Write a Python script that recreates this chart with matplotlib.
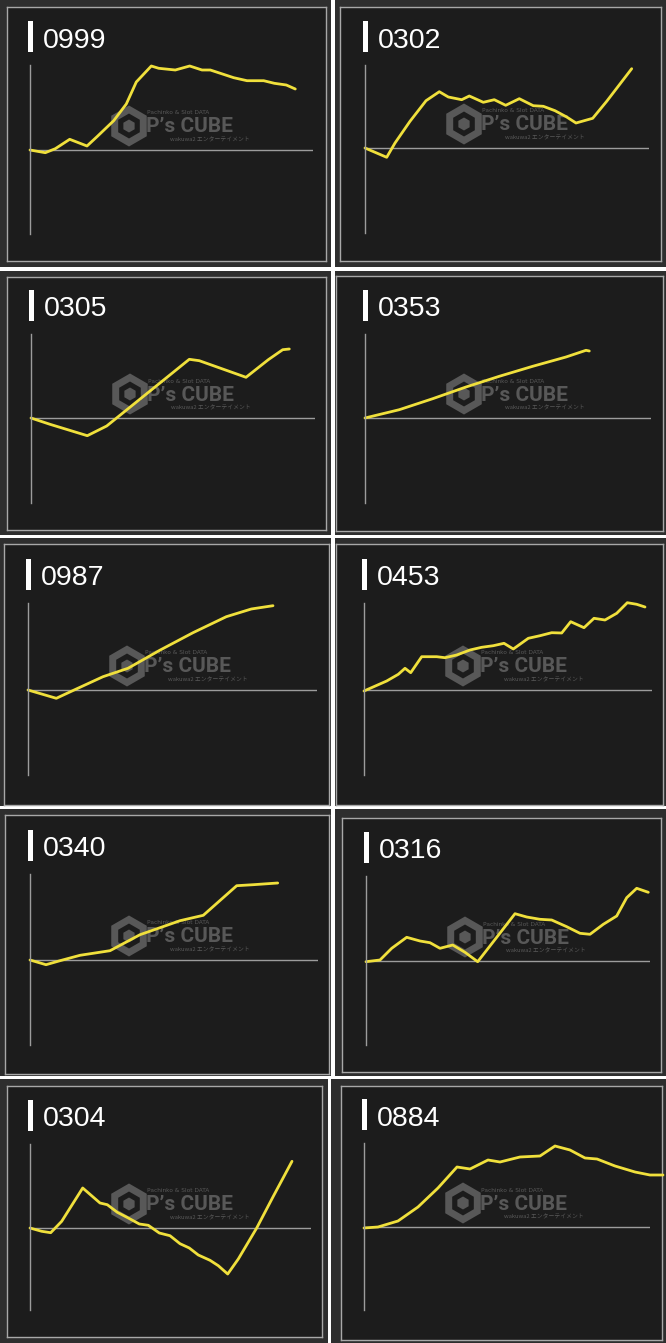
import matplotlib
matplotlib.use("Agg")
import matplotlib.pyplot as plt
from matplotlib.patches import Rectangle, RegularPolygon
from matplotlib.transforms import IdentityTransform

# ---------------- data (y in chart units, + is up) ----
ids = ["0999", "0302", "0305", "0353", "0987", "0453", "0340", "0316", "0304", "0884"]

x_0999 = [0, 15.3, 25.3, 39.7, 57, 67, 83.7, 96.3, 106.3, 121.3, 128.7, 145.3, 159.7, 172, 180.3, 203.7, 217, 233.7, 244.3, 256.3, 265.3]
y_0999 = [0, -2.7, 1.3, 10.7, 4, 13.3, 29.3, 46, 68, 84, 81.7, 80, 84, 80, 80, 72.3, 69.3, 69.3, 66.7, 65, 61]

x_0302 = [0, 21.7, 30, 45, 61, 74.3, 83.3, 96.7, 104.3, 118.3, 129.3, 140.7, 154.3, 168.3, 178.3, 190, 201.7, 211, 227.7, 241.7, 266.7]
y_0302 = [0, -9.3, 5, 26.7, 47.3, 56.3, 51, 48.3, 52, 45.7, 48.3, 42.7, 49.3, 42.3, 41.7, 37.3, 31, 25, 29.7, 46.7, 79.3]

x_0305 = [0, 19, 56.3, 75.7, 158.3, 168.3, 215, 237.3, 251.7, 258.3]
y_0305 = [0, -6.3, -17.7, -8, 58.7, 57.3, 40.7, 58.3, 68.3, 69]

x_0353 = [0, 34.3, 67.7, 101, 134.3, 167.7, 201, 221, 224.3]
y_0353 = [0, 8.3, 19.3, 31, 41.7, 51.7, 61, 67.7, 67]

x_0987 = [0, 28.3, 48.3, 75, 100, 131.7, 165, 198.3, 223.3, 245]
y_0987 = [0, -8.3, 1, 13.3, 21.7, 39.7, 57.3, 73.3, 81, 84.3]

x_0453 = [0, 22.7, 34.3, 41, 46.7, 57.7, 72.7, 81, 92.7, 106, 117.7, 129.3, 140, 149.3, 164.3, 176, 187.7, 197.7, 206.7, 220, 230, 241, 252.7, 263.3, 272.7, 281]
y_0453 = [-1, 9, 15.7, 21.7, 17.3, 33.3, 33.3, 32.3, 35, 40, 42.7, 44.3, 46.7, 41, 51.7, 54.3, 57.3, 57, 68.3, 62.3, 71.7, 70, 76.7, 87.3, 85.7, 83]

x_0340 = [0, 16, 30, 50, 80, 110, 150, 173.3, 206.7, 223.3, 247.7]
y_0340 = [0, -4.7, -0.7, 4.7, 9.3, 25.3, 39.3, 44.7, 74.3, 75.3, 77]

x_0316 = [0, 14, 25.7, 40.7, 54, 64, 74, 86.7, 99, 111.7, 127.3, 149, 160.7, 174, 185.7, 200.7, 214, 224, 237.3, 250.7, 260.7, 270.7, 282.3]
y_0316 = [-0.7, 1, 12.7, 23.7, 20, 18.3, 12.7, 16, 8.7, -0.7, 19.3, 47.3, 44, 41.7, 41, 34.3, 27.7, 26.7, 36.7, 45, 63.3, 72.7, 68.7]

x_0304 = [0, 11.7, 20.7, 31.7, 52.7, 70, 77.3, 87.3, 98.3, 109.3, 118.3, 129.3, 140, 150, 159.3, 168.3, 180, 188.3, 197.7, 208.3, 226.7, 243.3, 262]
y_0304 = [0, -3.3, -4.7, 6.7, 40, 25, 23.3, 15.7, 10, 4, 2.7, -5, -7.7, -15.7, -20, -27, -32.3, -37.7, -46, -31, 0, 31.7, 66.7]

x_0884 = [0, 14, 34, 54, 74, 93, 106, 124, 136, 156, 176, 191, 206, 221, 233, 251, 271, 286, 299]
y_0884 = [-1, 0, 6, 20, 39, 60, 58, 67, 65, 70, 71, 81, 77, 69, 68, 61, 55, 52, 52]

series_x = [x_0999, x_0302, x_0305, x_0353, x_0987, x_0453, x_0340, x_0316, x_0304, x_0884]
series_y = [y_0999, y_0302, y_0305, y_0353, y_0987, y_0453, y_0340, y_0316, y_0304, y_0884]

# ---------------- layout (pixels, origin top-left) ---------------------------
W, H = 666, 1343
tiles = [(0, 0, 331, 267), (335, 0, 666, 267),
         (0, 271, 331, 535), (335, 271, 666, 535),
         (0, 538, 331, 806), (335, 538, 666, 806),
         (0, 809, 331, 1076), (335, 809, 666, 1076),
         (0, 1079, 328, 1343), (331, 1079, 666, 1343)]
boxes = [(7, 7, 326, 261), (340, 7, 661, 261),
         (7, 277, 326, 530), (336, 276, 663, 531),
         (4, 544, 329, 805), (336, 544, 663, 805),
         (5, 815, 329, 1074), (342, 818, 661, 1072),
         (7, 1086, 322, 1337), (341, 1086, 662, 1340)]
plots = [(30, 313, 65, 150, 234), (365, 649, 65, 148, 233),
         (31, 315, 334, 418, 503), (365, 651, 334, 418, 503),
         (28, 317, 603, 690, 775), (364, 652, 603, 690, 775),
         (30, 318, 874, 960, 1045), (366, 650, 876, 961, 1045),
         (30, 311, 1144, 1228, 1310), (364, 650, 1143, 1227, 1310)]

BG_TILE = "#2e2e2e"
BOX_FC = "#1c1c1c"
BOX_EC = "#a8a8a8"
AXIS_C = "#9c9c9c"
LINE_C = "#f0e03c"
WM_C = "#585858"

plt.rcParams["font.family"] = ["Noto Sans CJK JP", "DejaVu Sans"]

fig = plt.figure(figsize=(W / 100, H / 100), dpi=100, facecolor="white")


def frac(l, t, r, b):
    return [l / W, 1 - b / H, (r - l) / W, (b - t) / H]


for i in range(len(ids)):
    tl, tt, tr, tb = tiles[i]
    fig.add_artist(Rectangle((tl / W, 1 - tb / H), (tr - tl) / W, (tb - tt) / H,
                             transform=fig.transFigure, facecolor=BG_TILE,
                             edgecolor="none", zorder=0))
    bx = fig.add_axes(frac(*boxes[i]), zorder=1)
    bx.set_facecolor(BOX_FC)
    bx.set_xticks([])
    bx.set_yticks([])
    for s in bx.spines.values():
        s.set_color(BOX_EC)
        s.set_linewidth(1.0)

    ax_x, ax_r, ax_t, zero_y, ax_b = plots[i]

    # watermark (logo hexagon + text), in display pixels
    cx, cy = ax_x + 99, zero_y - 24
    fig.add_artist(RegularPolygon((cx, H - cy), numVertices=6, radius=16.5,
                                  facecolor="none", edgecolor=WM_C, lw=5,
                                  transform=IdentityTransform(), zorder=2))
    fig.add_artist(RegularPolygon((cx, H - cy), numVertices=6, radius=6.5,
                                  facecolor=WM_C, edgecolor="none",
                                  transform=IdentityTransform(), zorder=2))
    fig.text((ax_x + 116) / W, 1 - (zero_y - 23) / H, "P\u2019s CUBE",
             color=WM_C, fontsize=15, fontweight="bold",
             family=["Roboto", "DejaVu Sans"], ha="left", va="center", zorder=2)
    fig.text((ax_x + 117) / W, 1 - (zero_y - 37) / H, "Pachinko & Slot DATA",
             color=WM_C, fontsize=4.2, family=["DejaVu Sans"],
             ha="left", va="center", zorder=2)
    fig.text((ax_x + 140) / W, 1 - (zero_y - 10) / H, "wakuwa2 エンターテイメント",
             color=WM_C, fontsize=4.2, ha="left", va="center", zorder=2)

    # plot axes
    ax = fig.add_axes(frac(ax_x, ax_t, ax_r, ax_b), zorder=3)
    ax.patch.set_alpha(0)
    ax.set_xlim(0, ax_r - ax_x)
    ax.set_ylim(-(ax_b - zero_y), zero_y - ax_t)
    ax.set_xticks([])
    ax.set_yticks([])
    for k in ("top", "right", "bottom"):
        ax.spines[k].set_visible(False)
    ax.spines["left"].set_color(AXIS_C)
    ax.spines["left"].set_linewidth(1.0)
    ax.axhline(0, color=AXIS_C, lw=1.0, zorder=1)
    ax.plot(series_x[i], series_y[i], color=LINE_C, lw=2.0,
            solid_joinstyle="round", solid_capstyle="round", zorder=2,
            clip_on=False)

    # title bar + label
    bar_l, bar_t, bar_b = ax_x - 2, ax_t - 44, ax_t - 13
    fig.add_artist(Rectangle((bar_l / W, 1 - bar_b / H), 5 / W, (bar_b - bar_t) / H,
                             transform=fig.transFigure, facecolor="white",
                             edgecolor="none", zorder=4))
    fig.text((bar_l + 15) / W, 1 - ((bar_t + bar_b) / 2 + 1) / H, ids[i],
             color="white", fontsize=20.5, family=["Liberation Sans", "DejaVu Sans"],
             ha="left", va="center_baseline", zorder=4)

fig.savefig("out.png", dpi=100, facecolor="white")
